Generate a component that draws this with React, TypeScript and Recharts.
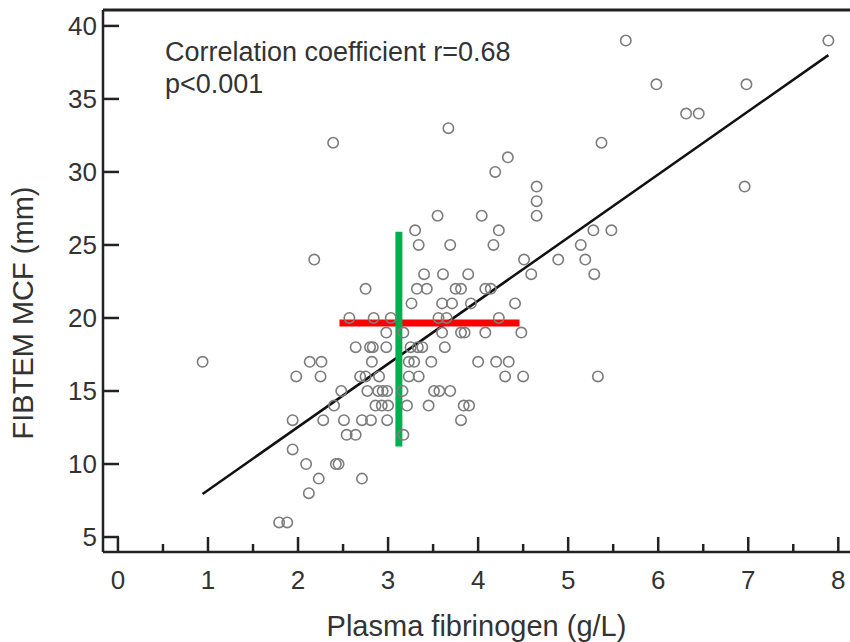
import React from 'react';
import { ScatterChart, Scatter, XAxis, YAxis, ReferenceLine, Label } from 'recharts';

// FIBTEM MCF (mm) rows -> plasma fibrinogen values (g/L)
const mcfRows: [number, number[]][] = [
  [39, [5.64, 7.89]],
  [36, [5.98, 6.98]],
  [34, [6.31, 6.45]],
  [33, [3.67]],
  [32, [2.39, 5.37]],
  [31, [4.33]],
  [30, [4.19]],
  [29, [4.65, 6.96]],
  [28, [4.65]],
  [27, [3.55, 4.04, 4.65]],
  [26, [3.3, 4.23, 5.28, 5.48]],
  [25, [3.34, 3.69, 4.17, 5.14]],
  [24, [2.18, 4.51, 4.89, 5.19]],
  [23, [3.4, 3.61, 3.89, 4.59, 5.29]],
  [22, [2.75, 3.32, 3.43, 3.75, 3.81, 4.08, 4.14]],
  [21, [3.26, 3.6, 3.71, 3.92, 4.41]],
  [20, [2.57, 2.84, 3.03, 3.56, 3.65, 4.23]],
  [19, [2.98, 3.17, 3.6, 3.81, 3.85, 4.08, 4.48]],
  [18, [2.64, 2.8, 2.83, 2.98, 3.25, 3.33, 3.38, 3.63]],
  [17, [0.94, 2.13, 2.26, 2.82, 3.23, 3.29, 3.48, 4.0, 4.2, 4.34]],
  [16, [1.98, 2.25, 2.69, 2.75, 2.9, 3.23, 3.34, 4.3, 4.5, 5.33]],
  [15, [2.48, 2.77, 2.89, 2.94, 2.99, 3.16, 3.51, 3.57, 3.69]],
  [14, [2.4, 2.86, 2.93, 3.0, 3.21, 3.45, 3.84, 3.9]],
  [13, [1.94, 2.28, 2.51, 2.71, 2.81, 2.99, 3.81]],
  [12, [2.54, 2.64, 3.17]],
  [11, [1.94]],
  [10, [2.09, 2.42, 2.45]],
  [9, [2.23, 2.71]],
  [8, [2.12]],
  [6, [1.79, 1.88]],
];

const xTicks = [0, 0.5, 1, 1.5, 2, 2.5, 3, 3.5, 4, 4.5, 5, 5.5, 6, 6.5, 7, 7.5, 8];
const yTicks = [5, 10, 15, 20, 25, 30, 35, 40];
const xDomain: [number, number] = [-0.166, 8.13];
const yDomain: [number, number] = [3.975, 41.09];

const regression = [{ x: 0.94, y: 7.95 }, { x: 7.89, y: 38.0 }];
const greenMark = [{ x: 3.12, y: 11.2 }, { x: 3.12, y: 25.9 }];
const redMark = [{ x: 2.46, y: 19.66 }, { x: 4.46, y: 19.66 }];

const points = mcfRows.flatMap(([mcf, xs]) => xs.map((fib) => ({ fib, mcf })));

const AXIS = '#222';
const TEXT = '#333';
const W = 850;
const H = 642;
const Y_AXIS_W = 103;
const X_AXIS_H = 90;
const PLOT_BOTTOM = H - X_AXIS_H;

// ticks point into the plot, labels sit outside
const XTick = (props: any) => {
  const { x, payload } = props;
  const major = Number.isInteger(payload.value);
  return (
    <g>
      <line x1={x} y1={PLOT_BOTTOM} x2={x} y2={PLOT_BOTTOM - (major ? 15 : 8)} stroke={AXIS} strokeWidth={2.5} />
      {major && (
        <text x={x} y={PLOT_BOTTOM + 37} textAnchor="middle" fontSize={26} fill={TEXT}>
          {payload.value}
        </text>
      )}
    </g>
  );
};

const YTick = (props: any) => {
  const { y, payload } = props;
  return (
    <g>
      <line x1={Y_AXIS_W} y1={y} x2={Y_AXIS_W + 16} y2={y} stroke={AXIS} strokeWidth={2.5} />
      <text x={Y_AXIS_W - 6} y={y + 9} textAnchor="end" fontSize={26} fill={TEXT}>
        {payload.value}
      </text>
    </g>
  );
};

const Ring = (props: any) => (
  <circle cx={props.cx} cy={props.cy} r={5.2} fill="none" stroke="#7c7c7c" strokeWidth={1.6} />
);

export default function App() {
  return (
    <div
      style={{
        position: 'absolute',
        left: 0,
        top: 0,
        width: W,
        height: H,
        background: '#fff',
        fontFamily: '"Liberation Sans", Arial, sans-serif',
      }}
    >
      <ScatterChart width={W} height={H} margin={{ top: 10, right: 0, bottom: 0, left: 0 }}>
        <XAxis
          type="number"
          dataKey="fib"
          domain={xDomain}
          ticks={xTicks}
          interval={0}
          height={X_AXIS_H}
          tickSize={0}
          tickMargin={0}
          tickLine={false}
          tick={<XTick />}
          axisLine={{ stroke: AXIS, strokeWidth: 2.5 }}
        >
          <Label
            value="Plasma fibrinogen (g/L)"
            position="insideBottom"
            offset={6}
            style={{ fontSize: 29, fill: TEXT }}
          />
        </XAxis>
        <YAxis
          type="number"
          dataKey="mcf"
          domain={yDomain}
          ticks={yTicks}
          interval={0}
          width={Y_AXIS_W}
          tickSize={0}
          tickMargin={0}
          tickLine={false}
          tick={<YTick />}
          axisLine={{ stroke: AXIS, strokeWidth: 2.5 }}
        >
          <Label
            value="FIBTEM MCF (mm)"
            position="center"
            angle={-90}
            dx={-29}
            dy={32}
            style={{ fontSize: 29, fill: TEXT, textAnchor: 'middle' }}
          />
        </YAxis>
        <ReferenceLine y={yDomain[1]} stroke={AXIS} strokeWidth={3} />
        <Scatter data={points} shape={<Ring />} isAnimationActive={false} />
        <ReferenceLine segment={regression} stroke="#111" strokeWidth={2.5} />
        <ReferenceLine segment={redMark} stroke="#ff0000" strokeWidth={7} />
        <ReferenceLine segment={greenMark} stroke="#00b050" strokeWidth={7} />
      </ScatterChart>
      <div
        style={{
          position: 'absolute',
          left: 165,
          top: 36,
          fontSize: 27,
          lineHeight: '32px',
          color: TEXT,
        }}
      >
        <div>Correlation coefficient r=0.68</div>
        <div>p&lt;0.001</div>
      </div>
    </div>
  );
}
